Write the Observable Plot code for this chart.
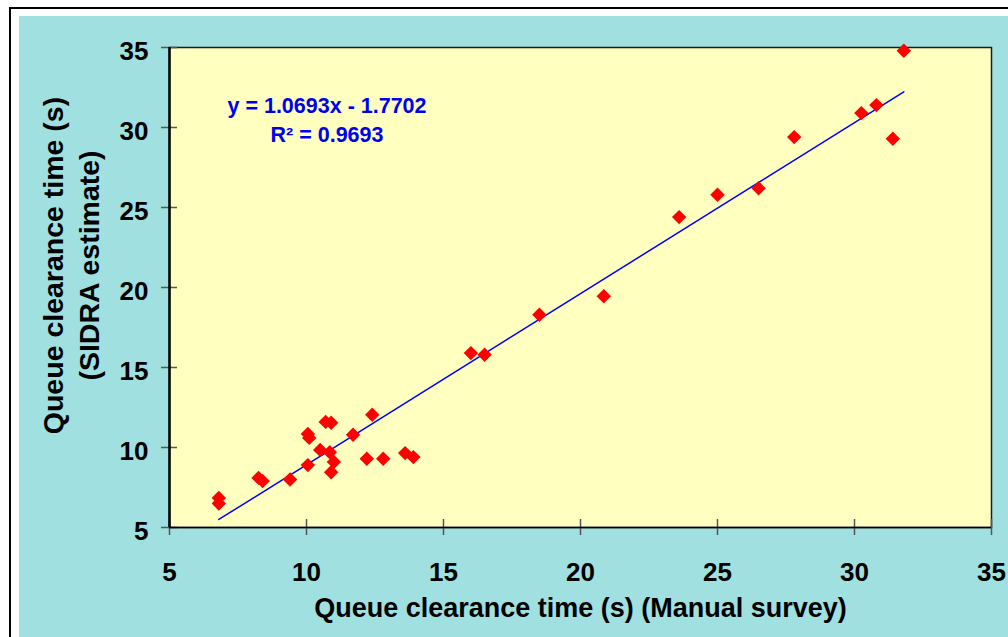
<!DOCTYPE html>
<html>
<head>
<meta charset="utf-8">
<script src="https://cdn.jsdelivr.net/npm/d3@7"></script>
<script src="https://cdn.jsdelivr.net/npm/@observablehq/plot@0.6"></script>
<style>
  html, body { margin: 0; padding: 0; background: #ffffff; }
  #wrap { position: relative; width: 1008px; height: 637px; overflow: hidden; background: #ffffff; }
  #border { position: absolute; left: 9px; top: 7px; width: 1100px; height: 700px; border: 2px solid #000; background: #ffffff; }
  #panel { position: absolute; left: 19px; top: 16px; width: 1100px; height: 700px; background: #a0e0e0; }
  #chart { position: absolute; left: 0; top: 0; }
</style>
</head>
<body>
<div id="wrap">
  <div id="border"></div>
  <div id="panel"></div>
  <div id="chart"></div>
</div>
<script>
// Manual survey (x) vs SIDRA estimate (y), queue clearance time in seconds
const manualSurvey = [6.8, 6.8, 8.25, 8.4, 9.4, 10.05, 10.1, 10.05, 10.7, 10.9, 10.5, 10.85, 11.0, 10.9, 11.7, 12.4, 12.2, 12.8, 13.6, 13.9, 16.0, 16.5, 18.5, 20.85, 23.6, 25.0, 26.5, 27.8, 30.25, 30.8, 31.4, 31.8];
const sidraEstimate = [6.85, 6.5, 8.1, 7.9, 8.0, 10.85, 10.6, 8.9, 11.6, 11.55, 9.85, 9.7, 9.1, 8.45, 10.8, 12.05, 9.3, 9.3, 9.65, 9.4, 15.9, 15.8, 18.3, 19.45, 24.4, 25.8, 26.2, 29.4, 30.9, 31.4, 29.3, 34.8];
const xTicks = [5, 10, 15, 20, 25, 30, 35];
const yTicks = [5, 10, 15, 20, 25, 30, 35];
const slope = 1.0693;
const intercept = -1.7702;
const rSquared = 0.9693;
const equationText = "y = 1.0693x - 1.7702";
const r2Text = "R\u00B2 = 0.9693";
const xTitle = "Queue clearance time (s) (Manual survey)";
const yTitleLines = ["Queue clearance time (s)", "(SIDRA estimate)"];

const points = manualSurvey.map((x, i) => ({x, y: sidraEstimate[i]}));
const xMin = d3.min(manualSurvey), xMax = d3.max(manualSurvey);
const trend = [xMin, xMax].map(x => ({x, y: slope * x + intercept}));

const font = "'Liberation Sans', Arial, Helvetica, sans-serif";

const chart = Plot.plot({
  width: 1008,
  height: 637,
  marginLeft: 169,
  marginRight: 17,
  marginTop: 47,
  marginBottom: 110,
  style: {background: "transparent", fontFamily: font, overflow: "visible"},
  x: {domain: [5, 35]},
  y: {domain: [5, 35]},
  marks: [
    Plot.frame({fill: "#ffffc0", stroke: "#1a1a1a", strokeWidth: 1.5}),
    Plot.ruleX(xTicks, {x: d => d, y1: 5, y2: 5, insetTop: -8, insetBottom: -8, stroke: "#555", strokeWidth: 1.5}),
    Plot.ruleY(yTicks, {y: d => d, x1: 5, x2: 5, insetLeft: -8, insetRight: -8, stroke: "#555", strokeWidth: 1.5}),
    Plot.ruleY([5], {stroke: "#000", strokeWidth: 1.5}),
    Plot.ruleX([5], {stroke: "#000", strokeWidth: 2.5}),
    Plot.axisX({ticks: xTicks, tickSize: 0, tickPadding: 35, fontSize: 26, fontWeight: "bold", fill: "#000", label: null}),
    Plot.axisY({ticks: yTicks, tickSize: 0, tickPadding: 21, dy: 4, fontSize: 26, fontWeight: "bold", fill: "#000", label: null}),
    Plot.line(trend, {x: "x", y: "y", stroke: "#0000ff", strokeWidth: 1.5}),
    Plot.dot(points, {x: "x", y: "y", symbol: "diamond2", r: 6.5, fill: "#ff0000", stroke: "none"}),
    Plot.text([equationText], {frameAnchor: "top-left", dx: 157.5, dy: 65, textAnchor: "middle", lineAnchor: "bottom", fontSize: 21.5, fontWeight: "bold", fill: "#0000ee"}),
    Plot.text([r2Text], {frameAnchor: "top-left", dx: 157.5, dy: 94.5, textAnchor: "middle", lineAnchor: "bottom", fontSize: 21.5, fontWeight: "bold", fill: "#0000ee"}),
    Plot.text([xTitle], {frameAnchor: "bottom", dy: 89, textAnchor: "middle", lineAnchor: "bottom", fontSize: 27, fontWeight: "bold", fill: "#000"}),
    Plot.text([yTitleLines[0]], {frameAnchor: "left", dx: -107, dy: -22, textAnchor: "middle", lineAnchor: "bottom", rotate: -90, fontSize: 28.5, fontWeight: "bold", fill: "#000"}),
    Plot.text([yTitleLines[1]], {frameAnchor: "left", dx: -71, dy: -22, textAnchor: "middle", lineAnchor: "bottom", rotate: -90, fontSize: 28.5, fontWeight: "bold", fill: "#000"})
  ]
});
document.getElementById("chart").appendChild(chart);
</script>
</body>
</html>
